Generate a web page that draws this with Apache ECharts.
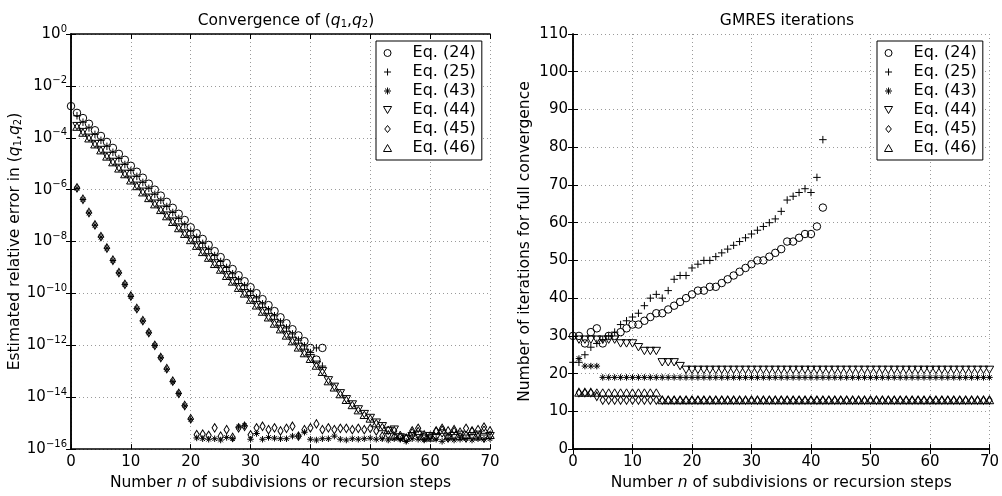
<!DOCTYPE html>
<html>
<head>
<meta charset="utf-8">
<script src="https://cdn.jsdelivr.net/npm/echarts@6/dist/echarts.min.js"></script>
<style>
  html, body { margin: 0; padding: 0; background: #fff; }
  #main { width: 1002px; height: 496px; }
</style>
</head>
<body>
<div id="main"></div>
<script>
// ---- left panel: log10 of estimated relative error, one value per n ----
const err24Start = 0;
const err24 = [-2.78,-3.04,-3.24,-3.46,-3.71,-3.93,-4.16,-4.39,-4.62,-4.85,
  -5.08,-5.31,-5.54,-5.77,-6.0,-6.23,-6.47,-6.7,-6.93,-7.17,
  -7.45,-7.68,-7.9,-8.13,-8.37,-8.6,-8.83,-9.06,-9.3,-9.53,
  -9.76,-9.99,-10.22,-10.45,-10.68,-10.92,-11.15,-11.38,-11.62,-11.84,
  -12.1,-12.55,-12.1];
const err25Start = 1;
const err25 = [-3.15,-3.4,-3.62,-3.87,-4.1,-4.33,-4.56,-4.8,-5.03,-5.26,
  -5.49,-5.72,-5.95,-6.18,-6.41,-6.65,-6.88,-7.11,-7.35,-7.6,
  -7.84,-8.07,-8.3,-8.54,-8.77,-9.0,-9.24,-9.47,-9.7,-9.93,
  -10.17,-10.4,-10.63,-10.86,-11.1,-11.33,-11.56,-11.8,-12.02,-12.28,
  -12.1,-12.8];
const err43Start = 1;
const err43 = [-5.95,-6.38,-6.9,-7.37,-7.83,-8.26,-8.73,-9.21,-9.66,-10.12,
  -10.59,-11.06,-11.52,-12.01,-12.48,-12.92,-13.4,-13.86,-14.33,-14.85,
  -15.57,-15.6,-15.62,-15.6,-15.65,-15.55,-15.6,-15.15,-15.1,-15.62,
  -15.4,-15.62,-15.55,-15.58,-15.6,-15.6,-15.5,-15.5,-15.35,-15.62,
  -15.65,-15.6,-15.6,-15.5,-15.62,-15.65,-15.6,-15.62,-15.6,-15.58,
  -15.62,-15.6,-15.65,-15.6,-15.62,-15.7,-15.6,-15.62,-15.65,-15.6,
  -15.62,-15.7,-15.6,-15.65,-15.62,-15.6,-15.65,-15.6,-15.62,-15.6];
const err44Start = 1;
const err44 = [-3.55,-3.78,-4.0,-4.24,-4.47,-4.7,-4.93,-5.16,-5.39,-5.62,
  -5.85,-6.08,-6.31,-6.54,-6.77,-7.0,-7.23,-7.46,-7.69,-7.92,
  -8.15,-8.38,-8.61,-8.84,-9.07,-9.3,-9.53,-9.76,-9.99,-10.22,
  -10.45,-10.68,-10.91,-11.14,-11.37,-11.6,-11.83,-12.06,-12.29,-12.5,
  -12.75,-13.0,-13.35,-13.6,-13.85,-14.08,-14.28,-14.47,-14.65,-14.8,
  -14.98,-15.12,-15.3,-15.25,-15.55,-15.6,-15.5,-15.45,-15.6,-15.5,
  -15.55,-15.4,-15.6,-15.5,-15.45,-15.6,-15.5,-15.45,-15.6,-15.5];
const err45Start = 1;
const err45 = [-5.93,-6.37,-6.88,-7.36,-7.81,-8.25,-8.72,-9.2,-9.65,-10.1,
  -10.58,-11.05,-11.51,-12.0,-12.47,-12.9,-13.38,-13.85,-14.32,-14.83,
  -15.44,-15.42,-15.47,-15.18,-15.5,-15.25,-15.55,-15.18,-15.12,-15.45,
  -15.18,-15.12,-15.25,-15.18,-15.3,-15.2,-15.12,-15.5,-15.25,-15.18,
  -15.03,-15.25,-15.18,-15.25,-15.2,-15.2,-15.25,-15.2,-15.25,-15.2,
  -15.3,-15.5,-15.45,-15.3,-15.55,-15.6,-15.3,-15.2,-15.45,-15.5,
  -15.3,-15.2,-15.3,-15.25,-15.35,-15.2,-15.3,-15.25,-15.15,-15.3];
const err46Start = 1;
const err46 = [-3.57,-3.8,-4.02,-4.25,-4.48,-4.72,-4.94,-5.18,-5.4,-5.64,
  -5.86,-6.1,-6.32,-6.56,-6.78,-7.02,-7.24,-7.48,-7.7,-7.94,
  -8.16,-8.4,-8.62,-8.86,-9.08,-9.32,-9.54,-9.78,-10.0,-10.24,
  -10.46,-10.7,-10.92,-11.16,-11.38,-11.62,-11.84,-12.08,-12.3,-12.52,
  -12.78,-13.02,-13.38,-13.62,-13.88,-14.1,-14.3,-14.5,-14.68,-14.82,
  -15.0,-15.15,-15.25,-15.5,-15.45,-15.55,-15.35,-15.3,-15.5,-15.55,
  -15.3,-15.25,-15.5,-15.3,-15.5,-15.45,-15.3,-15.5,-15.25,-15.45];

// ---- right panel: GMRES iterations, one value per n ----
const it24Start = 0;
const it24 = [30,30,28,31,32,28,30,30,31,32, 33,33,34,35,36,36,37,38,39,40,
  41,42,42,43,43,44,45,46,47,48, 49,50,50,51,52,53,55,55,56,57, 57,59,64];
const it25Start = 0;
const it25 = [23,23,25,27,28,29,30,31,33,34, 35,36,38,40,41,40,42,45,46,46,
  48,49,50,50,51,52,53,54,55,56, 57,58,59,60,61,63,66,67,68,69, 68,72,82];
const it43Start = 1;
const it43 = [24,22,22,22,19,19,19,19,19,19, 19,19,19,19,19,19,19,19,19,19,
  19,19,19,19,19,19,19,19,19,19, 19,19,19,19,19,19,19,19,19,19,
  19,19,19,19,19,19,19,19,19,19, 19,19,19,19,19,19,19,19,19,19,
  19,19,19,19,19,19,19,19,19,19];
const it44Start = 1;
const it44 = [29,29,29,29,29,29,29,28,28,28, 27,26,26,26,23,23,23,22,21,21,
  21,21,21,21,21,21,21,21,21,21, 21,21,21,21,21,21,21,21,21,21,
  21,21,21,21,21,21,21,21,21,21, 21,21,21,21,21,21,21,21,21,21,
  21,21,21,21,21,21,21,21,21,21];
const it45Start = 1;
const it45 = [15,15,15,14,13,13,13,13,13,13, 13,13,13,13,13,13,13,13,13,13,
  13,13,13,13,13,13,13,13,13,13, 13,13,13,13,13,13,13,13,13,13,
  13,13,13,13,13,13,13,13,13,13, 13,13,13,13,13,13,13,13,13,13,
  13,13,13,13,13,13,13,13,13,13];
const it46Start = 1;
const it46 = [15,15,15,15,15,15,15,15,15,15, 15,15,15,15,13,13,13,13,13,13,
  13,13,13,13,13,13,13,13,13,13, 13,13,13,13,13,13,13,13,13,13,
  13,13,13,13,13,13,13,13,13,13, 13,13,13,13,13,13,13,13,13,13,
  13,13,13,13,13,13,13,13,13,13];

const names = ['Eq. (24)', 'Eq. (25)', 'Eq. (43)', 'Eq. (44)', 'Eq. (45)', 'Eq. (46)'];
const xTicks = { min: 0, max: 70, interval: 10 };

const FONT = 'DejaVu Sans';
const symbols = [
  { symbol: 'circle', size: 7.5 },
  { symbol: 'path://M5,0L5,10M0,5L10,5', size: 7.5 },
  { symbol: 'path://M5,0L5,10M0,5L10,5M1.5,1.5L8.5,8.5M8.5,1.5L1.5,8.5', size: 6.5 },
  { symbol: 'path://M0,0L10,0L5,8.66Z', size: 8.5 },
  { symbol: 'path://M4,0L8,5L4,10L0,5Z', size: [6.5, 8.5] },
  { symbol: 'path://M5,0L10,8.66L0,8.66Z', size: 8.5 }
];

function pairs(start, vals, isLog) {
  return vals.map((v, i) => [start + i, isLog ? Math.pow(10, v) : v]);
}

const leftSets = [[err24Start, err24], [err25Start, err25], [err43Start, err43],
  [err44Start, err44], [err45Start, err45], [err46Start, err46]];
const rightSets = [[it24Start, it24], [it25Start, it25], [it43Start, it43],
  [it44Start, it44], [it45Start, it45], [it46Start, it46]];

const series = [];
leftSets.forEach((s, k) => series.push(makeSeries(k, 0, pairs(s[0], s[1], true))));
rightSets.forEach((s, k) => series.push(makeSeries(k, 1, pairs(s[0], s[1], false))));

function makeSeries(k, panel, data) {
  return {
    type: 'scatter',
    name: names[k],
    xAxisIndex: panel * 2,
    yAxisIndex: panel * 2,
    symbol: symbols[k].symbol,
    symbolSize: symbols[k].size,
    symbolKeepAspect: true,
    itemStyle: { color: 'rgba(0,0,0,0)', borderColor: '#000', borderWidth: 1, opacity: 1 },
    emphasis: { disabled: true },
    data: data
  };
}

const lineBlack = { show: true, lineStyle: { color: '#000', width: 1.5 } };
const tickIn = { show: true, inside: true, length: 5, lineStyle: { color: '#000' } };
const dotted = { show: true, lineStyle: { color: '#9a9a9a', type: [1, 3], width: 1 } };
const tickFont = { color: '#000', fontFamily: FONT, fontSize: 15 };
const nameRich = {
  t: { fontFamily: FONT, fontSize: 15.5, fontWeight: 'normal', color: '#000' },
  i: { fontFamily: FONT, fontSize: 15.5, fontWeight: 'normal', fontStyle: 'italic', color: '#000' },
  s: { fontFamily: FONT, fontSize: 10, fontWeight: 'normal', color: '#000', padding: [6, 0, 0, 0] }
};

function xAxes(grid) {
  return [
    Object.assign({ type: 'value', gridIndex: grid, position: 'bottom',
      axisLine: lineBlack, axisTick: tickIn, splitLine: dotted,
      axisLabel: Object.assign({ margin: 6 }, tickFont),
      name: '{t|Number }{i|n}{t| of subdivisions or recursion steps}',
      nameLocation: 'middle', nameGap: 22,
      nameTextStyle: { rich: nameRich } }, xTicks),
    Object.assign({ type: 'value', gridIndex: grid, position: 'top',
      axisLine: lineBlack, axisTick: tickIn, splitLine: { show: false },
      axisLabel: { show: false } }, xTicks)
  ];
}

const logLabel = {
  margin: 4,
  formatter: v => {
    const e = Math.round(Math.log10(v));
    return '{b|10}{s|' + (e < 0 ? '\u2212' + (-e) : e) + '}';
  },
  rich: {
    b: { fontFamily: FONT, fontSize: 15, color: '#000' },
    s: { fontFamily: FONT, fontSize: 10, color: '#000', padding: [0, 0, 10, 0] }
  }
};

const option = {
  animation: false,
  backgroundColor: '#fff',
  title: [
    { text: '{t|Convergence of (}{i|q}{s|1}{t|,}{i|q}{s|2}{t|)}', left: 281, top: 8, textAlign: 'center',
      textStyle: { fontWeight: 'normal', rich: nameRich } },
    { text: 'GMRES iterations', left: 782, top: 8, textAlign: 'center',
      textStyle: { fontFamily: FONT, fontSize: 15.5, fontWeight: 'normal', color: '#000' } }
  ],
  grid: [
    { left: 71, top: 34, width: 419, height: 419 },
    { left: 573, top: 34, width: 418, height: 419 }
  ],
  legend: [0, 1].map(p => ({
    data: names,
    orient: 'vertical',
    left: p === 0 ? 376 : 877,
    top: 41,
    padding: [4, 6, 4, 7],
    itemWidth: 20,
    itemHeight: 7,
    itemGap: 3,
    backgroundColor: '#fff',
    borderColor: '#000',
    borderWidth: 1,
    borderRadius: 0,
    symbolKeepAspect: true,
    selectedMode: false,
    itemStyle: { color: 'rgba(0,0,0,0)', borderColor: '#000', borderWidth: 1 },
    textStyle: { fontFamily: FONT, fontSize: 16, color: '#000', padding: [0, 0, 0, 10] }
  })),
  xAxis: xAxes(0).concat(xAxes(1)),
  yAxis: [
    { type: 'log', logBase: 10, gridIndex: 0, min: 1e-16, max: 1, interval: 2,
      axisLine: lineBlack, axisTick: tickIn, splitLine: dotted, minorTick: { show: false },
      axisLabel: logLabel,
      name: '{t|Estimated relative error in (}{i|q}{s|1}{t|,}{i|q}{s|2}{t|)}',
      nameLocation: 'middle', nameGap: 48, nameRotate: 90,
      nameTextStyle: { rich: nameRich } },
    { type: 'log', logBase: 10, gridIndex: 0, min: 1e-16, max: 1, interval: 2, position: 'right',
      axisLine: lineBlack, axisTick: tickIn, splitLine: { show: false }, axisLabel: { show: false } },
    { type: 'value', gridIndex: 1, min: 0, max: 110, interval: 10,
      axisLine: lineBlack, axisTick: tickIn, splitLine: dotted,
      axisLabel: Object.assign({ margin: 5 }, tickFont),
      name: 'Number of iterations for full convergence',
      nameLocation: 'middle', nameGap: 40, nameRotate: 90,
      nameTextStyle: { fontFamily: FONT, fontSize: 15.5, color: '#000' } },
    { type: 'value', gridIndex: 1, min: 0, max: 110, interval: 10, position: 'right',
      axisLine: lineBlack, axisTick: tickIn, splitLine: { show: false }, axisLabel: { show: false } }
  ],
  series: series
};

const chart = echarts.init(document.getElementById('main'), null, { renderer: 'canvas' });
chart.setOption(option);
</script>
</body>
</html>
